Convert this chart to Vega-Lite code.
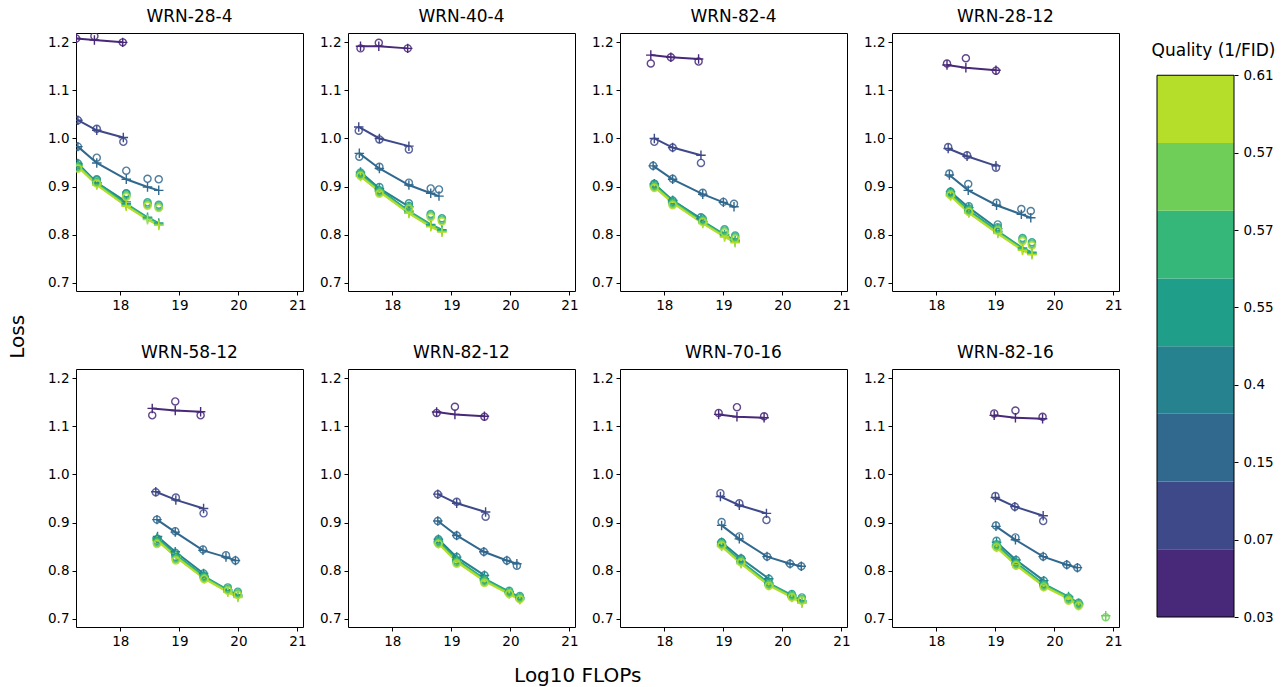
{
  "$schema": "https://vega.github.io/schema/vega-lite/v6.json",
  "padding": {"left": 8, "top": 7, "right": 2, "bottom": 0},
  "config": {
    "font": "DejaVu Sans",
    "view": {"stroke": "#000", "strokeWidth": 1},
    "axis": {"grid": false, "domain": false, "tickColor": "#000", "tickSize": 4, "labelColor": "#000", "labelFontSize": 13.5, "labelPadding": 3, "labelFont": "DejaVu Sans"},
    "title": {"fontWeight": "normal", "color": "#000", "font": "DejaVu Sans"}
  },
  "title": {"text": "Loss", "orient": "left", "anchor": "middle", "fontSize": 20, "offset": 19, "dx": 10},
  "spacing": 28,
  "hconcat": [
    {
      "title": {"text": "Log10 FLOPs", "orient": "bottom", "anchor": "middle", "fontSize": 20, "offset": 18, "dx": -7},
      "data": {"values": [
        {"m":"WRN-28-4","q":1,"x":17.25,"p":1.208,"a":1.208},
        {"m":"WRN-28-4","q":1,"x":17.56,"p":1.205,"a":1.213},
        {"m":"WRN-28-4","q":1,"x":18.04,"p":1.200,"a":1.200},
        {"m":"WRN-28-4","q":2,"x":17.28,"p":1.038,"a":1.038},
        {"m":"WRN-28-4","q":2,"x":17.60,"p":1.017,"a":1.020},
        {"m":"WRN-28-4","q":2,"x":18.05,"p":1.002,"a":0.993},
        {"m":"WRN-28-4","q":3,"x":17.28,"p":0.983,"a":0.983},
        {"m":"WRN-28-4","q":3,"x":17.60,"p":0.949,"a":0.960},
        {"m":"WRN-28-4","q":3,"x":18.10,"p":0.915,"a":0.933},
        {"m":"WRN-28-4","q":3,"x":18.46,"p":0.899,"a":0.916},
        {"m":"WRN-28-4","q":3,"x":18.65,"p":0.892,"a":0.915},
        {"m":"WRN-28-4","q":4,"x":17.28,"p":0.948,"a":0.948},
        {"m":"WRN-28-4","q":4,"x":17.60,"p":0.908,"a":0.915},
        {"m":"WRN-28-4","q":4,"x":18.10,"p":0.868,"a":0.886},
        {"m":"WRN-28-4","q":5,"x":17.28,"p":0.946,"a":0.944},
        {"m":"WRN-28-4","q":5,"x":17.60,"p":0.908,"a":0.913},
        {"m":"WRN-28-4","q":5,"x":18.10,"p":0.864,"a":0.885},
        {"m":"WRN-28-4","q":5,"x":18.46,"p":0.836,"a":0.867},
        {"m":"WRN-28-4","q":5,"x":18.65,"p":0.824,"a":0.862},
        {"m":"WRN-28-4","q":6,"x":17.28,"p":0.944,"a":0.941},
        {"m":"WRN-28-4","q":6,"x":17.60,"p":0.906,"a":0.910},
        {"m":"WRN-28-4","q":6,"x":18.10,"p":0.862,"a":0.882},
        {"m":"WRN-28-4","q":6,"x":18.46,"p":0.834,"a":0.864},
        {"m":"WRN-28-4","q":6,"x":18.65,"p":0.822,"a":0.859},
        {"m":"WRN-28-4","q":7,"x":17.28,"p":0.942,"a":0.939},
        {"m":"WRN-28-4","q":7,"x":17.60,"p":0.904,"a":0.908},
        {"m":"WRN-28-4","q":7,"x":18.10,"p":0.860,"a":0.880},
        {"m":"WRN-28-4","q":7,"x":18.46,"p":0.832,"a":0.862},
        {"m":"WRN-28-4","q":7,"x":18.65,"p":0.820,"a":0.857},
        {"m":"WRN-28-4","q":8,"x":17.28,"p":0.941,"a":0.937},
        {"m":"WRN-28-4","q":8,"x":17.60,"p":0.903,"a":0.906},
        {"m":"WRN-28-4","q":8,"x":18.10,"p":0.859,"a":0.878},
        {"m":"WRN-28-4","q":8,"x":18.46,"p":0.831,"a":0.860},
        {"m":"WRN-28-4","q":8,"x":18.65,"p":0.819,"a":0.855},

        {"m":"WRN-40-4","q":1,"x":17.46,"p":1.192,"a":1.1875},
        {"m":"WRN-40-4","q":1,"x":17.77,"p":1.192,"a":1.199},
        {"m":"WRN-40-4","q":1,"x":18.26,"p":1.1875,"a":1.1875},
        {"m":"WRN-40-4","q":2,"x":17.43,"p":1.024,"a":1.016},
        {"m":"WRN-40-4","q":2,"x":17.78,"p":1.000,"a":0.998},
        {"m":"WRN-40-4","q":2,"x":18.28,"p":0.984,"a":0.977},
        {"m":"WRN-40-4","q":3,"x":17.44,"p":0.969,"a":0.962},
        {"m":"WRN-40-4","q":3,"x":17.78,"p":0.9375,"a":0.941},
        {"m":"WRN-40-4","q":3,"x":18.28,"p":0.903,"a":0.908},
        {"m":"WRN-40-4","q":3,"x":18.65,"p":0.886,"a":0.896},
        {"m":"WRN-40-4","q":3,"x":18.79,"p":0.880,"a":0.894},
        {"m":"WRN-40-4","q":4,"x":17.46,"p":0.930,"a":0.926},
        {"m":"WRN-40-4","q":4,"x":17.78,"p":0.896,"a":0.899},
        {"m":"WRN-40-4","q":4,"x":18.28,"p":0.858,"a":0.865},
        {"m":"WRN-40-4","q":5,"x":17.46,"p":0.926,"a":0.929},
        {"m":"WRN-40-4","q":5,"x":17.78,"p":0.894,"a":0.892},
        {"m":"WRN-40-4","q":5,"x":18.28,"p":0.849,"a":0.860},
        {"m":"WRN-40-4","q":5,"x":18.65,"p":0.821,"a":0.843},
        {"m":"WRN-40-4","q":5,"x":18.84,"p":0.810,"a":0.834},
        {"m":"WRN-40-4","q":6,"x":17.46,"p":0.924,"a":0.926},
        {"m":"WRN-40-4","q":6,"x":17.78,"p":0.892,"a":0.889},
        {"m":"WRN-40-4","q":6,"x":18.28,"p":0.847,"a":0.857},
        {"m":"WRN-40-4","q":6,"x":18.65,"p":0.819,"a":0.840},
        {"m":"WRN-40-4","q":6,"x":18.84,"p":0.808,"a":0.831},
        {"m":"WRN-40-4","q":7,"x":17.46,"p":0.922,"a":0.924},
        {"m":"WRN-40-4","q":7,"x":17.78,"p":0.890,"a":0.887},
        {"m":"WRN-40-4","q":7,"x":18.28,"p":0.845,"a":0.855},
        {"m":"WRN-40-4","q":7,"x":18.65,"p":0.817,"a":0.838},
        {"m":"WRN-40-4","q":7,"x":18.84,"p":0.806,"a":0.829},
        {"m":"WRN-40-4","q":8,"x":17.46,"p":0.921,"a":0.922},
        {"m":"WRN-40-4","q":8,"x":17.78,"p":0.889,"a":0.885},
        {"m":"WRN-40-4","q":8,"x":18.28,"p":0.844,"a":0.853},
        {"m":"WRN-40-4","q":8,"x":18.65,"p":0.816,"a":0.836},
        {"m":"WRN-40-4","q":8,"x":18.84,"p":0.805,"a":0.827},

        {"m":"WRN-82-4","q":1,"x":17.77,"p":1.1735,"a":1.156},
        {"m":"WRN-82-4","q":1,"x":18.11,"p":1.169,"a":1.169},
        {"m":"WRN-82-4","q":1,"x":18.58,"p":1.1655,"a":1.160},
        {"m":"WRN-82-4","q":2,"x":17.83,"p":1.000,"a":0.993},
        {"m":"WRN-82-4","q":2,"x":18.14,"p":0.981,"a":0.981},
        {"m":"WRN-82-4","q":2,"x":18.62,"p":0.965,"a":0.949},
        {"m":"WRN-82-4","q":3,"x":17.81,"p":0.943,"a":0.943},
        {"m":"WRN-82-4","q":3,"x":18.14,"p":0.915,"a":0.916},
        {"m":"WRN-82-4","q":3,"x":18.65,"p":0.884,"a":0.887},
        {"m":"WRN-82-4","q":3,"x":19.00,"p":0.867,"a":0.868},
        {"m":"WRN-82-4","q":3,"x":19.18,"p":0.858,"a":0.864},
        {"m":"WRN-82-4","q":4,"x":17.83,"p":0.906,"a":0.906},
        {"m":"WRN-82-4","q":4,"x":18.14,"p":0.871,"a":0.871},
        {"m":"WRN-82-4","q":4,"x":18.62,"p":0.833,"a":0.836},
        {"m":"WRN-82-4","q":5,"x":17.83,"p":0.904,"a":0.904},
        {"m":"WRN-82-4","q":5,"x":18.14,"p":0.871,"a":0.868},
        {"m":"WRN-82-4","q":5,"x":18.65,"p":0.828,"a":0.833},
        {"m":"WRN-82-4","q":5,"x":19.02,"p":0.800,"a":0.811},
        {"m":"WRN-82-4","q":5,"x":19.20,"p":0.788,"a":0.798},
        {"m":"WRN-82-4","q":6,"x":17.83,"p":0.902,"a":0.901},
        {"m":"WRN-82-4","q":6,"x":18.14,"p":0.869,"a":0.865},
        {"m":"WRN-82-4","q":6,"x":18.65,"p":0.826,"a":0.830},
        {"m":"WRN-82-4","q":6,"x":19.02,"p":0.798,"a":0.808},
        {"m":"WRN-82-4","q":6,"x":19.20,"p":0.786,"a":0.795},
        {"m":"WRN-82-4","q":7,"x":17.83,"p":0.900,"a":0.899},
        {"m":"WRN-82-4","q":7,"x":18.14,"p":0.867,"a":0.863},
        {"m":"WRN-82-4","q":7,"x":18.65,"p":0.824,"a":0.828},
        {"m":"WRN-82-4","q":7,"x":19.02,"p":0.796,"a":0.806},
        {"m":"WRN-82-4","q":7,"x":19.20,"p":0.784,"a":0.793},
        {"m":"WRN-82-4","q":8,"x":17.83,"p":0.899,"a":0.897},
        {"m":"WRN-82-4","q":8,"x":18.14,"p":0.866,"a":0.861},
        {"m":"WRN-82-4","q":8,"x":18.65,"p":0.823,"a":0.826},
        {"m":"WRN-82-4","q":8,"x":19.02,"p":0.795,"a":0.804},
        {"m":"WRN-82-4","q":8,"x":19.20,"p":0.783,"a":0.791},

        {"m":"WRN-28-12","q":1,"x":18.18,"p":1.153,"a":1.156},
        {"m":"WRN-28-12","q":1,"x":18.50,"p":1.147,"a":1.167},
        {"m":"WRN-28-12","q":1,"x":19.01,"p":1.142,"a":1.141},
        {"m":"WRN-28-12","q":2,"x":18.20,"p":0.979,"a":0.982},
        {"m":"WRN-28-12","q":2,"x":18.52,"p":0.963,"a":0.965},
        {"m":"WRN-28-12","q":2,"x":19.01,"p":0.943,"a":0.939},
        {"m":"WRN-28-12","q":3,"x":18.22,"p":0.924,"a":0.927},
        {"m":"WRN-28-12","q":3,"x":18.54,"p":0.892,"a":0.905},
        {"m":"WRN-28-12","q":3,"x":19.02,"p":0.861,"a":0.866},
        {"m":"WRN-28-12","q":3,"x":19.44,"p":0.842,"a":0.853},
        {"m":"WRN-28-12","q":3,"x":19.60,"p":0.835,"a":0.849},
        {"m":"WRN-28-12","q":4,"x":18.24,"p":0.889,"a":0.889},
        {"m":"WRN-28-12","q":4,"x":18.55,"p":0.856,"a":0.859},
        {"m":"WRN-28-12","q":4,"x":19.04,"p":0.812,"a":0.821},
        {"m":"WRN-28-12","q":5,"x":18.24,"p":0.885,"a":0.889},
        {"m":"WRN-28-12","q":5,"x":18.55,"p":0.850,"a":0.854},
        {"m":"WRN-28-12","q":5,"x":19.04,"p":0.807,"a":0.815},
        {"m":"WRN-28-12","q":5,"x":19.46,"p":0.772,"a":0.793},
        {"m":"WRN-28-12","q":5,"x":19.62,"p":0.763,"a":0.784},
        {"m":"WRN-28-12","q":6,"x":18.24,"p":0.883,"a":0.886},
        {"m":"WRN-28-12","q":6,"x":18.55,"p":0.848,"a":0.851},
        {"m":"WRN-28-12","q":6,"x":19.04,"p":0.805,"a":0.812},
        {"m":"WRN-28-12","q":6,"x":19.46,"p":0.770,"a":0.790},
        {"m":"WRN-28-12","q":6,"x":19.62,"p":0.761,"a":0.781},
        {"m":"WRN-28-12","q":7,"x":18.24,"p":0.881,"a":0.884},
        {"m":"WRN-28-12","q":7,"x":18.55,"p":0.846,"a":0.849},
        {"m":"WRN-28-12","q":7,"x":19.04,"p":0.803,"a":0.810},
        {"m":"WRN-28-12","q":7,"x":19.46,"p":0.768,"a":0.788},
        {"m":"WRN-28-12","q":7,"x":19.62,"p":0.759,"a":0.779},
        {"m":"WRN-28-12","q":8,"x":18.24,"p":0.880,"a":0.882},
        {"m":"WRN-28-12","q":8,"x":18.55,"p":0.845,"a":0.847},
        {"m":"WRN-28-12","q":8,"x":19.04,"p":0.802,"a":0.808},
        {"m":"WRN-28-12","q":8,"x":19.46,"p":0.767,"a":0.786},
        {"m":"WRN-28-12","q":8,"x":19.62,"p":0.758,"a":0.777},

        {"m":"WRN-58-12","q":1,"x":18.54,"p":1.1375,"a":1.123},
        {"m":"WRN-58-12","q":1,"x":18.93,"p":1.133,"a":1.152},
        {"m":"WRN-58-12","q":1,"x":19.36,"p":1.1305,"a":1.123},
        {"m":"WRN-58-12","q":2,"x":18.60,"p":0.964,"a":0.963},
        {"m":"WRN-58-12","q":2,"x":18.94,"p":0.947,"a":0.952},
        {"m":"WRN-58-12","q":2,"x":19.41,"p":0.929,"a":0.919},
        {"m":"WRN-58-12","q":3,"x":18.62,"p":0.906,"a":0.906},
        {"m":"WRN-58-12","q":3,"x":18.93,"p":0.880,"a":0.882},
        {"m":"WRN-58-12","q":3,"x":19.40,"p":0.842,"a":0.844},
        {"m":"WRN-58-12","q":3,"x":19.79,"p":0.828,"a":0.832},
        {"m":"WRN-58-12","q":3,"x":19.95,"p":0.821,"a":0.821},
        {"m":"WRN-58-12","q":4,"x":18.63,"p":0.871,"a":0.866},
        {"m":"WRN-58-12","q":4,"x":18.93,"p":0.839,"a":0.837},
        {"m":"WRN-58-12","q":4,"x":19.41,"p":0.794,"a":0.794},
        {"m":"WRN-58-12","q":5,"x":18.62,"p":0.868,"a":0.862},
        {"m":"WRN-58-12","q":5,"x":18.94,"p":0.833,"a":0.828},
        {"m":"WRN-58-12","q":5,"x":19.42,"p":0.788,"a":0.789},
        {"m":"WRN-58-12","q":5,"x":19.82,"p":0.760,"a":0.765},
        {"m":"WRN-58-12","q":5,"x":19.99,"p":0.749,"a":0.756},
        {"m":"WRN-58-12","q":6,"x":18.62,"p":0.866,"a":0.859},
        {"m":"WRN-58-12","q":6,"x":18.94,"p":0.831,"a":0.825},
        {"m":"WRN-58-12","q":6,"x":19.42,"p":0.786,"a":0.786},
        {"m":"WRN-58-12","q":6,"x":19.82,"p":0.758,"a":0.762},
        {"m":"WRN-58-12","q":6,"x":19.99,"p":0.747,"a":0.753},
        {"m":"WRN-58-12","q":7,"x":18.62,"p":0.864,"a":0.857},
        {"m":"WRN-58-12","q":7,"x":18.94,"p":0.829,"a":0.823},
        {"m":"WRN-58-12","q":7,"x":19.42,"p":0.784,"a":0.784},
        {"m":"WRN-58-12","q":7,"x":19.82,"p":0.756,"a":0.760},
        {"m":"WRN-58-12","q":7,"x":19.99,"p":0.745,"a":0.751},
        {"m":"WRN-58-12","q":8,"x":18.62,"p":0.863,"a":0.855},
        {"m":"WRN-58-12","q":8,"x":18.94,"p":0.828,"a":0.821},
        {"m":"WRN-58-12","q":8,"x":19.42,"p":0.783,"a":0.782},
        {"m":"WRN-58-12","q":8,"x":19.82,"p":0.755,"a":0.758},
        {"m":"WRN-58-12","q":8,"x":19.99,"p":0.744,"a":0.749},

        {"m":"WRN-82-12","q":1,"x":18.75,"p":1.130,"a":1.128},
        {"m":"WRN-82-12","q":1,"x":19.06,"p":1.125,"a":1.141},
        {"m":"WRN-82-12","q":1,"x":19.56,"p":1.121,"a":1.120},
        {"m":"WRN-82-12","q":2,"x":18.77,"p":0.959,"a":0.959},
        {"m":"WRN-82-12","q":2,"x":19.09,"p":0.940,"a":0.943},
        {"m":"WRN-82-12","q":2,"x":19.58,"p":0.922,"a":0.912},
        {"m":"WRN-82-12","q":3,"x":18.77,"p":0.903,"a":0.903},
        {"m":"WRN-82-12","q":3,"x":19.09,"p":0.873,"a":0.873},
        {"m":"WRN-82-12","q":3,"x":19.55,"p":0.839,"a":0.839},
        {"m":"WRN-82-12","q":3,"x":19.94,"p":0.821,"a":0.821},
        {"m":"WRN-82-12","q":3,"x":20.11,"p":0.814,"a":0.810},
        {"m":"WRN-82-12","q":4,"x":18.78,"p":0.865,"a":0.865},
        {"m":"WRN-82-12","q":4,"x":19.09,"p":0.828,"a":0.828},
        {"m":"WRN-82-12","q":4,"x":19.56,"p":0.790,"a":0.790},
        {"m":"WRN-82-12","q":5,"x":18.78,"p":0.861,"a":0.862},
        {"m":"WRN-82-12","q":5,"x":19.09,"p":0.823,"a":0.821},
        {"m":"WRN-82-12","q":5,"x":19.56,"p":0.783,"a":0.781},
        {"m":"WRN-82-12","q":5,"x":19.98,"p":0.756,"a":0.758},
        {"m":"WRN-82-12","q":5,"x":20.16,"p":0.744,"a":0.747},
        {"m":"WRN-82-12","q":6,"x":18.78,"p":0.859,"a":0.859},
        {"m":"WRN-82-12","q":6,"x":19.09,"p":0.821,"a":0.818},
        {"m":"WRN-82-12","q":6,"x":19.56,"p":0.781,"a":0.778},
        {"m":"WRN-82-12","q":6,"x":19.98,"p":0.754,"a":0.755},
        {"m":"WRN-82-12","q":6,"x":20.16,"p":0.742,"a":0.744},
        {"m":"WRN-82-12","q":7,"x":18.78,"p":0.857,"a":0.857},
        {"m":"WRN-82-12","q":7,"x":19.09,"p":0.819,"a":0.816},
        {"m":"WRN-82-12","q":7,"x":19.56,"p":0.779,"a":0.776},
        {"m":"WRN-82-12","q":7,"x":19.98,"p":0.752,"a":0.753},
        {"m":"WRN-82-12","q":7,"x":20.16,"p":0.740,"a":0.742},
        {"m":"WRN-82-12","q":8,"x":18.78,"p":0.856,"a":0.855},
        {"m":"WRN-82-12","q":8,"x":19.09,"p":0.818,"a":0.814},
        {"m":"WRN-82-12","q":8,"x":19.56,"p":0.778,"a":0.774},
        {"m":"WRN-82-12","q":8,"x":19.98,"p":0.751,"a":0.751},
        {"m":"WRN-82-12","q":8,"x":20.16,"p":0.739,"a":0.740},

        {"m":"WRN-70-16","q":1,"x":18.92,"p":1.125,"a":1.128},
        {"m":"WRN-70-16","q":1,"x":19.23,"p":1.120,"a":1.140},
        {"m":"WRN-70-16","q":1,"x":19.69,"p":1.118,"a":1.121},
        {"m":"WRN-70-16","q":2,"x":18.95,"p":0.954,"a":0.961},
        {"m":"WRN-70-16","q":2,"x":19.27,"p":0.936,"a":0.940},
        {"m":"WRN-70-16","q":2,"x":19.73,"p":0.919,"a":0.905},
        {"m":"WRN-70-16","q":3,"x":18.97,"p":0.894,"a":0.901},
        {"m":"WRN-70-16","q":3,"x":19.27,"p":0.866,"a":0.871},
        {"m":"WRN-70-16","q":3,"x":19.74,"p":0.829,"a":0.829},
        {"m":"WRN-70-16","q":3,"x":20.13,"p":0.814,"a":0.814},
        {"m":"WRN-70-16","q":3,"x":20.32,"p":0.809,"a":0.809},
        {"m":"WRN-70-16","q":4,"x":18.97,"p":0.859,"a":0.859},
        {"m":"WRN-70-16","q":4,"x":19.30,"p":0.825,"a":0.825},
        {"m":"WRN-70-16","q":4,"x":19.77,"p":0.783,"a":0.783},
        {"m":"WRN-70-16","q":5,"x":18.97,"p":0.855,"a":0.859},
        {"m":"WRN-70-16","q":5,"x":19.30,"p":0.819,"a":0.824},
        {"m":"WRN-70-16","q":5,"x":19.77,"p":0.774,"a":0.775},
        {"m":"WRN-70-16","q":5,"x":20.16,"p":0.749,"a":0.751},
        {"m":"WRN-70-16","q":5,"x":20.33,"p":0.737,"a":0.744},
        {"m":"WRN-70-16","q":6,"x":18.97,"p":0.853,"a":0.856},
        {"m":"WRN-70-16","q":6,"x":19.30,"p":0.817,"a":0.821},
        {"m":"WRN-70-16","q":6,"x":19.77,"p":0.772,"a":0.772},
        {"m":"WRN-70-16","q":6,"x":20.16,"p":0.747,"a":0.748},
        {"m":"WRN-70-16","q":6,"x":20.33,"p":0.735,"a":0.741},
        {"m":"WRN-70-16","q":7,"x":18.97,"p":0.851,"a":0.854},
        {"m":"WRN-70-16","q":7,"x":19.30,"p":0.815,"a":0.819},
        {"m":"WRN-70-16","q":7,"x":19.77,"p":0.770,"a":0.770},
        {"m":"WRN-70-16","q":7,"x":20.16,"p":0.745,"a":0.746},
        {"m":"WRN-70-16","q":7,"x":20.33,"p":0.733,"a":0.739},
        {"m":"WRN-70-16","q":8,"x":18.97,"p":0.850,"a":0.852},
        {"m":"WRN-70-16","q":8,"x":19.30,"p":0.814,"a":0.817},
        {"m":"WRN-70-16","q":8,"x":19.77,"p":0.769,"a":0.768},
        {"m":"WRN-70-16","q":8,"x":20.16,"p":0.744,"a":0.744},
        {"m":"WRN-70-16","q":8,"x":20.33,"p":0.732,"a":0.737},

        {"m":"WRN-82-16","q":1,"x":18.98,"p":1.123,"a":1.127},
        {"m":"WRN-82-16","q":1,"x":19.34,"p":1.118,"a":1.133},
        {"m":"WRN-82-16","q":1,"x":19.80,"p":1.116,"a":1.120},
        {"m":"WRN-82-16","q":2,"x":19.00,"p":0.952,"a":0.955},
        {"m":"WRN-82-16","q":2,"x":19.33,"p":0.933,"a":0.933},
        {"m":"WRN-82-16","q":2,"x":19.81,"p":0.914,"a":0.903},
        {"m":"WRN-82-16","q":3,"x":19.01,"p":0.892,"a":0.894},
        {"m":"WRN-82-16","q":3,"x":19.34,"p":0.864,"a":0.869},
        {"m":"WRN-82-16","q":3,"x":19.81,"p":0.829,"a":0.829},
        {"m":"WRN-82-16","q":3,"x":20.21,"p":0.812,"a":0.812},
        {"m":"WRN-82-16","q":3,"x":20.39,"p":0.806,"a":0.806},
        {"m":"WRN-82-16","q":4,"x":19.02,"p":0.859,"a":0.862},
        {"m":"WRN-82-16","q":4,"x":19.35,"p":0.822,"a":0.822},
        {"m":"WRN-82-16","q":4,"x":19.82,"p":0.779,"a":0.779},
        {"m":"WRN-82-16","q":5,"x":19.02,"p":0.853,"a":0.855},
        {"m":"WRN-82-16","q":5,"x":19.35,"p":0.816,"a":0.817},
        {"m":"WRN-82-16","q":5,"x":19.82,"p":0.772,"a":0.772},
        {"m":"WRN-82-16","q":5,"x":20.24,"p":0.746,"a":0.744},
        {"m":"WRN-82-16","q":5,"x":20.41,"p":0.732,"a":0.733},
        {"m":"WRN-82-16","q":6,"x":19.02,"p":0.851,"a":0.852},
        {"m":"WRN-82-16","q":6,"x":19.35,"p":0.814,"a":0.814},
        {"m":"WRN-82-16","q":6,"x":19.82,"p":0.770,"a":0.769},
        {"m":"WRN-82-16","q":6,"x":20.24,"p":0.744,"a":0.741},
        {"m":"WRN-82-16","q":6,"x":20.41,"p":0.730,"a":0.730},
        {"m":"WRN-82-16","q":7,"x":19.02,"p":0.849,"a":0.850},
        {"m":"WRN-82-16","q":7,"x":19.35,"p":0.812,"a":0.812},
        {"m":"WRN-82-16","q":7,"x":19.82,"p":0.768,"a":0.767},
        {"m":"WRN-82-16","q":7,"x":20.24,"p":0.742,"a":0.739},
        {"m":"WRN-82-16","q":7,"x":20.41,"p":0.728,"a":0.728},
        {"m":"WRN-82-16","q":7,"x":20.87,"p":0.706,"a":0.703,"solo":1},
        {"m":"WRN-82-16","q":8,"x":19.02,"p":0.848,"a":0.848},
        {"m":"WRN-82-16","q":8,"x":19.35,"p":0.811,"a":0.810},
        {"m":"WRN-82-16","q":8,"x":19.82,"p":0.767,"a":0.765},
        {"m":"WRN-82-16","q":8,"x":20.24,"p":0.741,"a":0.737},
        {"m":"WRN-82-16","q":8,"x":20.41,"p":0.727,"a":0.726}
      ]},
      "facet": {
        "field": "m", "type": "nominal",
        "sort": ["WRN-28-4","WRN-40-4","WRN-82-4","WRN-28-12","WRN-58-12","WRN-82-12","WRN-70-16","WRN-82-16"],
        "header": {"title": null, "labelFontSize": 17, "labelFont": "DejaVu Sans", "labelColor": "#000", "labelPadding": 7}
      },
      "columns": 4,
      "bounds": "flush",
      "spacing": {"column": 45, "row": 78},
      "resolve": {"axis": {"x": "independent", "y": "independent"}},
      "spec": {
        "width": 227,
        "height": 258,
        "layer": [
          {
            "transform": [{"filter": "datum.solo !== 1"}],
            "mark": {"type": "line", "strokeWidth": 2, "clip": true},
            "encoding": {
              "x": {"field": "x", "type": "quantitative", "scale": {"domain": [17.248, 21.095], "nice": false, "zero": false}, "axis": {"values": [18, 19, 20, 21], "format": "d", "title": null}},
              "y": {"field": "p", "type": "quantitative", "scale": {"domain": [0.6825, 1.2195], "nice": false, "zero": false}, "axis": {"values": [0.7, 0.8, 0.9, 1.0, 1.1, 1.2], "format": ".1f", "title": null}},
              "color": {"field": "q", "type": "ordinal", "scale": {"domain": [1,2,3,4,5,6,7,8], "range": ["#482878","#3e4989","#31688e","#26828e","#1f9e89","#35b779","#6ece58","#b5de2b"]}, "legend": null}
            }
          },
          {
            "mark": {"type": "point", "shape": "M-1,0L1,0M0,-1L0,1", "size": 90, "strokeWidth": 1.4, "filled": false, "clip": true, "opacity": 1},
            "encoding": {
              "x": {"field": "x", "type": "quantitative", "axis": {"title": null}},
              "y": {"field": "p", "type": "quantitative", "axis": {"title": null}},
              "color": {"field": "q", "type": "ordinal", "legend": null}
            }
          },
          {
            "mark": {"type": "point", "shape": "circle", "size": 50, "strokeWidth": 1.4, "filled": false, "clip": true, "opacity": 0.85},
            "encoding": {
              "x": {"field": "x", "type": "quantitative", "axis": {"title": null}},
              "y": {"field": "a", "type": "quantitative", "axis": {"title": null}},
              "color": {"field": "q", "type": "ordinal", "legend": null}
            }
          }
        ]
      }
    },
    {
      "title": {"text": "Quality (1/FID)", "fontSize": 17, "anchor": "middle", "dx": 18, "offset": -27},
      "width": 77,
      "height": 584,
      "view": {"stroke": null},
      "data": {"values": [
        {"q":1,"lo":0,"hi":1},{"q":2,"lo":1,"hi":2},{"q":3,"lo":2,"hi":3},{"q":4,"lo":3,"hi":4},
        {"q":5,"lo":4,"hi":5},{"q":6,"lo":5,"hi":6},{"q":7,"lo":6,"hi":7},{"q":8,"lo":7,"hi":8}
      ]},
      "layer": [
        {
          "mark": {"type": "rect"},
          "encoding": {
            "y": {"field": "lo", "type": "quantitative", "scale": {"domain": [0, 8.624], "nice": false, "zero": false},
                  "axis": {"orient": "right", "title": null, "values": [0, 1.142857, 2.285714, 3.428571, 4.571429, 5.714286, 6.857143, 8],
                           "labelExpr": "['0.03','0.07','0.15','0.4','0.55','0.57','0.57','0.61'][round(datum.value*7/8)]", "labelFontSize": 13.5, "labelPadding": 5}},
            "y2": {"field": "hi"},
            "x": {"datum": 0, "type": "quantitative", "scale": {"domain": [0, 1]}, "axis": null},
            "x2": {"datum": 1},
            "color": {"field": "q", "type": "ordinal", "scale": {"domain": [1,2,3,4,5,6,7,8], "range": ["#482878","#3e4989","#31688e","#26828e","#1f9e89","#35b779","#6ece58","#b5de2b"]}, "legend": null}
          }
        },
        {
          "data": {"values": [{"lo": 0, "hi": 8}]},
          "mark": {"type": "rect", "fill": null, "fillOpacity": 0, "stroke": "#000", "strokeWidth": 1},
          "encoding": {
            "y": {"field": "lo", "type": "quantitative"},
            "y2": {"field": "hi"},
            "x": {"datum": 0, "type": "quantitative"},
            "x2": {"datum": 1}
          }
        }
      ]
    }
  ]
}
